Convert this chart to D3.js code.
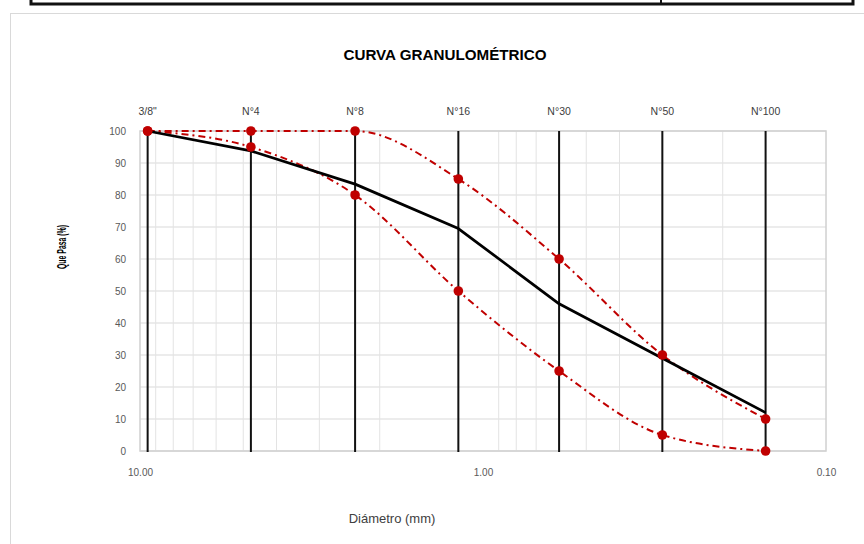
<!DOCTYPE html>
<html>
<head>
<meta charset="utf-8">
<script src="https://cdn.jsdelivr.net/npm/d3@7"></script>
<style>
  html, body { margin: 0; padding: 0; background: #fff; }
  svg { display: block; }
  text { font-family: "Liberation Sans Narrow", "Liberation Sans", Arial, sans-serif; }
</style>
</head>
<body>
<svg id="chart" width="864" height="544"></svg>
<script>
// ---- data ----
const sieveLabels = ["3/8\"", "N°4", "N°8", "N°16", "N°30", "N°50", "N°100"];
const sieveSizes = [9.5, 4.75, 2.36, 1.18, 0.6, 0.3, 0.15];
const passing = [100, 93.8, 83.4, 69.5, 46, 29, 12];
const upperLimit = [100, 100, 100, 85, 60, 30, 10];
const lowerLimit = [100, 95, 80, 50, 25, 5, 0];
const yTicks = [0, 10, 20, 30, 40, 50, 60, 70, 80, 90, 100];
const xTicks = [10, 1, 0.1];
const minorX = [9, 8, 7, 6, 5, 4, 3, 2, 0.9, 0.8, 0.7, 0.6, 0.5, 0.4, 0.3, 0.2];

const svg = d3.select("#chart");

// decorations: top box (cropped) and chart frame
svg.append("rect").attr("x", 31).attr("y", -10).attr("width", 822).attr("height", 14)
  .attr("fill", "none").attr("stroke", "#111").attr("stroke-width", 3);
svg.append("line").attr("x1", 661).attr("x2", 661).attr("y1", 0).attr("y2", 4)
  .attr("stroke", "#111").attr("stroke-width", 2);
svg.append("rect").attr("x", 10.5).attr("y", 13.5).attr("width", 880).attr("height", 560)
  .attr("fill", "#fff").attr("stroke", "#d9d9d9").attr("stroke-width", 1);

const L = 140, R = 826, T = 131, B = 451;
const x = d3.scaleLog().domain([10, 0.1]).range([L, R]);
const y = d3.scaleLinear().domain([0, 100]).range([B, T]);

// grid
const g = svg.append("g");
g.selectAll("line.hg").data(yTicks).join("line")
  .attr("x1", L).attr("x2", R).attr("y1", d => y(d)).attr("y2", d => y(d))
  .attr("stroke", "#d9d9d9").attr("stroke-width", 1);
g.selectAll("line.vg").data(minorX).join("line")
  .attr("x1", d => x(d)).attr("x2", d => x(d)).attr("y1", T).attr("y2", B)
  .attr("stroke", "#e3e3e3").attr("stroke-width", 1);
g.append("rect").attr("x", L).attr("y", T).attr("width", R - L).attr("height", B - T)
  .attr("fill", "none").attr("stroke", "#d0d0d0").attr("stroke-width", 1.5);

// axes labels
const yAxis = d3.axisLeft(y).tickValues(yTicks).tickSize(0).tickPadding(14);
const ya = svg.append("g").attr("transform", `translate(${L},0)`).call(yAxis);
ya.select(".domain").remove();
ya.selectAll("text").attr("font-size", 10).attr("fill", "#595959")
  .style("font-family", "'Liberation Sans Narrow','Liberation Sans',sans-serif");

const xAxis = d3.axisBottom(x).tickValues(xTicks).tickSize(0).tickPadding(18).tickFormat(d3.format(".2f"));
const xa = svg.append("g").attr("transform", `translate(0,${B})`).call(xAxis);
xa.select(".domain").remove();
xa.selectAll("text").attr("font-size", 10).attr("fill", "#595959")
  .style("font-family", "'Liberation Sans Narrow','Liberation Sans',sans-serif");

// top sieve labels
svg.selectAll("text.sieve").data(sieveLabels).join("text")
  .attr("x", (d, i) => x(sieveSizes[i])).attr("y", 115)
  .attr("text-anchor", "middle").attr("font-size", 10.5).attr("fill", "#404040")
  .text(d => d);

// vertical sieve lines
svg.selectAll("line.sv").data(sieveSizes).join("line")
  .attr("x1", d => x(d)).attr("x2", d => x(d)).attr("y1", y(0) + 1).attr("y2", y(100))
  .attr("stroke", "#111").attr("stroke-width", 2);

// limit curves
const pts = arr => arr.map((v, i) => [x(sieveSizes[i]), y(v)]);
const smooth = d3.line().curve(d3.curveMonotoneX);
[upperLimit, lowerLimit].forEach(arr => {
  svg.append("path").attr("d", smooth(pts(arr)))
    .attr("fill", "none").attr("stroke", "#c00000").attr("stroke-width", 2)
    .attr("stroke-dasharray", "7,4,2,4");
});

// gradation line
svg.append("path").attr("d", d3.line()(pts(passing)))
  .attr("fill", "none").attr("stroke", "#000").attr("stroke-width", 2.75)
  .attr("stroke-linejoin", "round");

// markers
[upperLimit, lowerLimit].forEach(arr => {
  svg.append("g").selectAll("circle").data(pts(arr)).join("circle")
    .attr("cx", d => d[0]).attr("cy", d => d[1]).attr("r", 4.8)
    .attr("fill", "#c00000");
});

// titles
svg.append("text").attr("x", 445).attr("y", 60).attr("text-anchor", "middle")
  .attr("font-size", 14).attr("font-weight", "bold").attr("fill", "#000")
  .attr("textLength", 203).attr("lengthAdjust", "spacingAndGlyphs")
  .text("CURVA GRANULOMÉTRICO");

svg.append("text").attr("transform", "translate(66,247) rotate(-90)")
  .attr("text-anchor", "middle").attr("font-size", 12).attr("font-weight", "bold")
  .attr("fill", "#000").attr("textLength", 44).attr("lengthAdjust", "spacingAndGlyphs")
  .text("Que Pasa (%)");

svg.append("text").attr("x", 392).attr("y", 523).attr("text-anchor", "middle")
  .attr("font-size", 13).attr("fill", "#404040")
  .text("Diámetro (mm)");
</script>
</body>
</html>
